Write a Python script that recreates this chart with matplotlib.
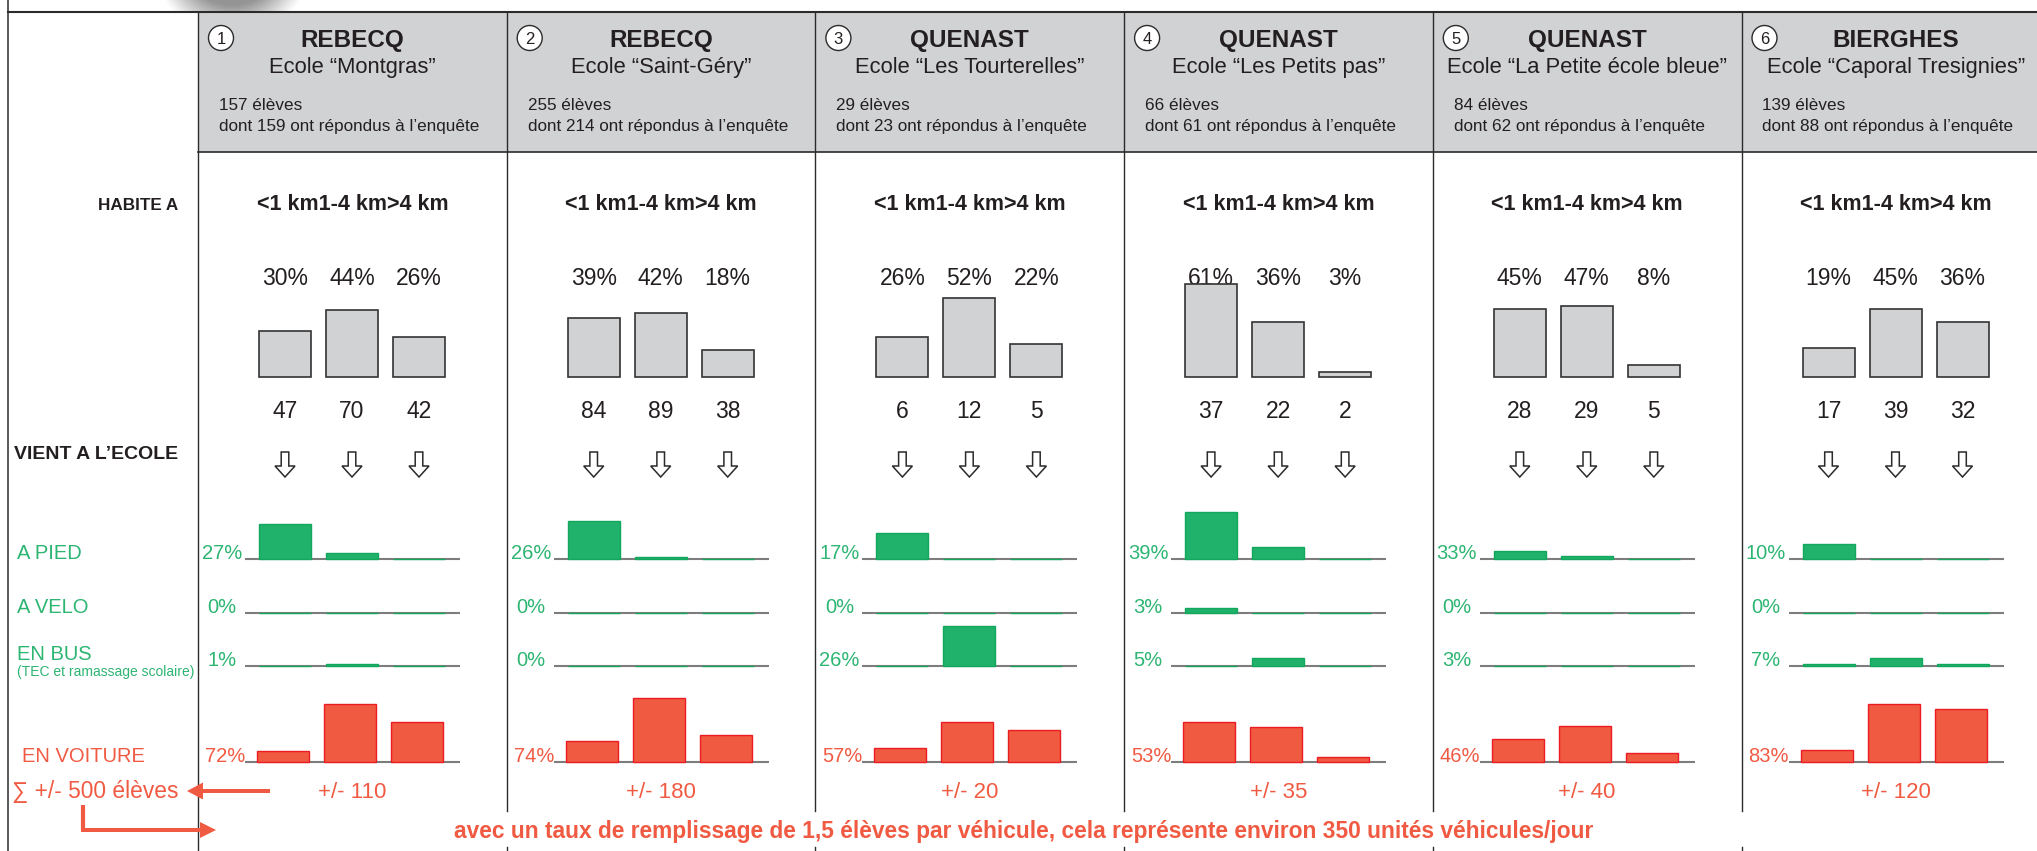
import numpy as np
import matplotlib
matplotlib.use('Agg')
import matplotlib.pyplot as plt
from matplotlib.patches import Rectangle, Circle, Polygon, FancyArrow

plt.rcParams['font.family'] = ['Liberation Sans', 'DejaVu Sans']

# ---------------- data ----------------
school_numbers = ['1', '2', '3', '4', '5', '6']
towns = ['REBECQ', 'REBECQ', 'QUENAST', 'QUENAST', 'QUENAST', 'BIERGHES']
schools = ['Ecole “Montgras”', 'Ecole “Saint-Géry”', 'Ecole “Les Tourterelles”',
           'Ecole “Les Petits pas”', 'Ecole “La Petite école bleue”', 'Ecole “Caporal Tresignies”']
pupils = [157, 255, 29, 66, 84, 139]
respondents = [159, 214, 23, 61, 62, 88]

distance_labels = ['<1 km', '1-4 km', '>4 km']
distance_pct = [[30, 44, 26], [39, 42, 18], [26, 52, 22], [61, 36, 3], [45, 47, 8], [19, 45, 36]]
distance_count = [[47, 70, 42], [84, 89, 38], [6, 12, 5], [37, 22, 2], [28, 29, 5], [17, 39, 32]]

mode_labels = ['A PIED', 'A VELO', 'EN BUS', 'EN VOITURE']
bus_note = '(TEC et ramassage scolaire)'
walk_total = [27, 26, 17, 39, 33, 10]
bike_total = [0, 0, 0, 3, 0, 0]
bus_total = [1, 0, 26, 5, 3, 7]
car_total = [72, 74, 57, 53, 46, 83]

walk_by_distance = [[23, 4, 0], [25, 1, 0], [17, 0, 0], [31, 8, 0], [5, 2, 0], [10, 0, 0]]
bike_by_distance = [[0, 0, 0], [0, 0, 0], [0, 0, 0], [3, 0, 0], [0, 0, 0], [0, 0, 0]]
bus_by_distance = [[0, 1, 0], [0, 0, 0], [0, 26, 0], [0, 5, 0], [0, 0, 0], [1, 5, 1]]
car_by_distance = [[7, 38, 26], [14, 42, 18], [9, 26, 21], [26, 23, 3], [15, 24, 6], [8, 38, 35]]

car_trips = ['+/- 110', '+/- 180', '+/- 20', '+/- 35', '+/- 40', '+/- 120']
row_title_home = 'HABITE A'
row_title_mode = 'VIENT A L’ECOLE'
total_label = '∑ +/- 500 élèves'
footnote = ('avec un taux de remplissage de 1,5 élèves par véhicule, '
            'cela représente environ 350 unités véhicules/jour')

# ---------------- style ----------------
GRAY_FILL = '#d1d2d4'
BAR_EDGE = '#333333'
GREEN = '#20b16a'
GREEN_EDGE = '#13a65d'
GREEN_TXT = '#2db572'
RED_FILL = '#f05a40'
RED_EDGE = '#ec1c24'
RED_TXT = '#f15a42'
LINE = '#2b2b2b'
TXT = '#231f20'

W, H = 2037, 851
fig = plt.figure(figsize=(W / 100, H / 100), dpi=100)
ov = fig.add_axes([0, 0, 1, 1])
ov.set_xlim(0, W)
ov.set_ylim(H, 0)
ov.axis('off')

COL0, COLW = 198.0, 308.7
col_left = [COL0 + i * COLW for i in range(len(towns))]
PPP = 1.52            # pixels per percent
AX_L, AX_R = 47, 262  # bar-axes extent inside a column
C0, STEP = 87, 67     # first bar centre, spacing
XLIM = ((AX_L - C0) / STEP, (AX_R - C0) / STEP)
BW = 52 / STEP
GRAY_BASE = 377
ROW_BASE = [559, 613, 666, 762]


def bar_axes(cl, base, top_pct, bot_pct=3):
    x0, x1 = cl + AX_L, cl + AX_R
    ytop, ybot = base - top_pct * PPP, base + bot_pct * PPP
    ax = fig.add_axes([x0 / W, 1 - ybot / H, (x1 - x0) / W, (ybot - ytop) / H])
    ax.set_xlim(*XLIM)
    ax.set_ylim(-bot_pct, top_pct)
    ax.axis('off')
    return ax


# ---------------- frame ----------------
# soft shadow at top
yy, xx = np.mgrid[0:12:0.5, 140:330:0.5]
r = np.hypot(xx - 232, yy + 45)
alpha = np.clip((82 - r) / 32, 0, 1) ** 1.1 * 0.7
img = np.zeros(yy.shape + (4,))
img[..., :3] = 0.4
img[..., 3] = alpha
ov.imshow(img, extent=(140, 330, 12, 0), origin='upper', interpolation='bilinear', zorder=0)
ov.set_aspect('auto')
ov.set_xlim(0, W)
ov.set_ylim(H, 0)

ov.add_patch(Rectangle((COL0, 12), W - COL0 + 5, 140, fc=GRAY_FILL, ec='none', zorder=1))
ov.plot([8, W], [12, 12], color=LINE, lw=1.5, zorder=3)
ov.plot([8, 8], [0, H], color=LINE, lw=1.1, zorder=3)
ov.plot([COL0, W], [152, 152], color=LINE, lw=1.2, zorder=3)
ov.plot([COL0, COL0], [12, H], color=LINE, lw=1.0, zorder=3)
for cl in col_left[1:]:
    ov.plot([cl, cl], [12, 811], color=LINE, lw=1.0, zorder=3)
    ov.plot([cl, cl], [847, H], color=LINE, lw=1.0, zorder=3)

# ---------------- left labels ----------------
ov.text(178, 210, row_title_home, ha='right', va='baseline', fontsize=12.3, fontweight='bold', color=TXT)
ov.text(178, 459, row_title_mode, ha='right', va='baseline', fontsize=14, fontweight='bold', color=TXT)
ov.text(17, ROW_BASE[0], mode_labels[0], ha='left', va='baseline', fontsize=14.5, color=GREEN_TXT)
ov.text(17, ROW_BASE[1], mode_labels[1], ha='left', va='baseline', fontsize=14.5, color=GREEN_TXT)
ov.text(17, 660, mode_labels[2], ha='left', va='baseline', fontsize=14.5, color=GREEN_TXT)
ov.text(17, 676, bus_note, ha='left', va='baseline', fontsize=10, color=GREEN_TXT)
ov.text(22, ROW_BASE[3], mode_labels[3], ha='left', va='baseline', fontsize=14.5, color=RED_TXT)
ov.text(12, 798, total_label, ha='left', va='baseline', fontsize=16.4, color=RED_TXT)

# arrows in red
ov.add_patch(FancyArrow(270, 791, -83, 0, width=4, head_width=17, head_length=16,
                        length_includes_head=True, fc=RED_TXT, ec='none', zorder=5))
ov.plot([83, 83], [805, 830], color=RED_TXT, lw=3, solid_capstyle='butt', zorder=5)
ov.add_patch(FancyArrow(81, 830, 135, 0, width=4, head_width=16, head_length=16,
                        length_includes_head=True, fc=RED_TXT, ec='none', zorder=5))

fn = ov.text(1024, 838, footnote, ha='center', va='baseline', fontsize=15,
             fontweight='bold', color=RED_TXT)

# ---------------- columns ----------------
mode_data = [walk_by_distance, bike_by_distance, bus_by_distance, car_by_distance]
mode_totals = [walk_total, bike_total, bus_total, car_total]
x = np.arange(3)

for i, cl in enumerate(col_left):
    cc = cl + COLW / 2
    # header
    ov.add_patch(Circle((cl + 23, 38), 12.5, fc='white', ec=LINE, lw=1.0, zorder=4))
    ov.text(cl + 23, 38, school_numbers[i], ha='center', va='center_baseline', fontsize=12, color=TXT, zorder=5)
    ov.text(cc, 47, towns[i], ha='center', va='baseline', fontsize=17.5, fontweight='bold', color=TXT, zorder=5)
    ov.text(cc, 73, schools[i], ha='center', va='baseline', fontsize=15.8, color=TXT, zorder=5)
    ov.text(cl + 21, 110, f'{pupils[i]} élèves', ha='left', va='baseline', fontsize=12.3, color=TXT, zorder=5)
    ov.text(cl + 21, 131, f'dont {respondents[i]} ont répondus à l’enquête', ha='left', va='baseline',
            fontsize=12.3, color=TXT, zorder=5)

    # distance
    ov.text(cc, 210, ''.join(distance_labels), ha='center', va='baseline', fontsize=15.5,
            fontweight='bold', color=TXT)
    for k in range(3):
        bx = cl + C0 + k * STEP
        ov.text(bx, 285, f'{distance_pct[i][k]}%', ha='center', va='baseline', fontsize=16.5, color=TXT, zorder=6)
        ov.text(bx, 418, f'{distance_count[i][k]}', ha='center', va='baseline', fontsize=16.5, color=TXT)
        pts = [(bx - 3.8, 452), (bx + 3.8, 452), (bx + 3.8, 466), (bx + 10, 466),
               (bx, 477), (bx - 10, 466), (bx - 3.8, 466)]
        ov.add_patch(Polygon(pts, closed=True, fc='white', ec=LINE, lw=1.1, zorder=4))

    gax = bar_axes(cl, GRAY_BASE, 70)
    gax.bar(x, distance_pct[i], BW, color=GRAY_FILL, edgecolor=BAR_EDGE, linewidth=1.2)

    # modes
    for r_i, (data, tot) in enumerate(zip(mode_data, mode_totals)):
        base = ROW_BASE[r_i]
        ax = bar_axes(cl, base, 45)
        ax.axhline(0, color='#7d7d7d', lw=1.5, zorder=1)
        if r_i == 3:
            ax.bar(x - 2 / STEP, data[i], BW, color=RED_FILL, edgecolor=RED_EDGE, linewidth=1.0, zorder=2)
            ov.text(cl + 27, base, f'{tot[i]}%', ha='center', va='baseline', fontsize=14.5, color=RED_TXT)
        else:
            ax.bar(x, data[i], BW, color=GREEN, edgecolor=GREEN_EDGE, linewidth=1.0, zorder=2)
            ov.text(cl + 24, base, f'{tot[i]}%', ha='center', va='baseline', fontsize=14.5, color=GREEN_TXT)

    ov.text(cc, 798, car_trips[i], ha='center', va='baseline', fontsize=16, color=RED_TXT)

# fit footnote width to the reference (~1146 px)
fig.canvas.draw()
bb = fn.get_window_extent()
fn.set_fontsize(fn.get_fontsize() * 1146 / bb.width)

fig.savefig('out.png', dpi=100)
